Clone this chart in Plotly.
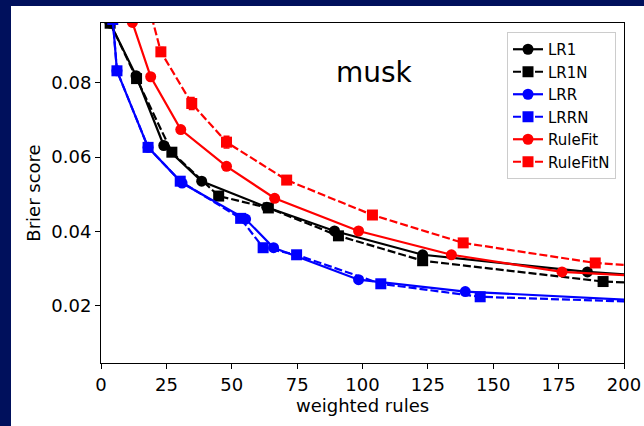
import plotly.graph_objects as go

# ---- data ----
lr1_x = [3.5, 13.4, 24, 38.5, 63.4, 89.3, 123, 186, 260]
lr1_y = [0.0960, 0.0819, 0.0631, 0.0535, 0.0465, 0.0401, 0.0337, 0.0291, 0.0255]
lr1_e = [0.0004, 0.0008, 0.0005, 0.0004, 0.0006, 0.0005, 0.0004, 0.0005, 0.0004]

lr1n_x = [3.5, 13.6, 27.1, 45, 64, 90.8, 123, 192, 260]
lr1n_y = [0.0960, 0.0811, 0.0613, 0.0495, 0.0463, 0.0388, 0.0321, 0.0265, 0.0245]
lr1n_e = [0.0004, 0.0008, 0.0005, 0.0004, 0.0005, 0.0005, 0.0005, 0.0008, 0.0004]

lrr_x = [4.5, 6.1, 18, 31, 55.3, 66, 98.5, 139.3, 260]
lrr_y = [0.0970, 0.0832, 0.0626, 0.0530, 0.0433, 0.0356, 0.0270, 0.0238, 0.0195]
lrr_e = [0.0004, 0.0005, 0.0005, 0.0005, 0.0006, 0.0004, 0.0004, 0.0005, 0.0004]

lrrn_x = [4.5, 6.1, 18, 30.3, 53.4, 62, 74.8, 107, 145, 260]
lrrn_y = [0.0970, 0.0832, 0.0626, 0.0535, 0.0435, 0.0356, 0.0337, 0.0259, 0.0224, 0.0198]
lrrn_e = [0.0004, 0.0005, 0.0005, 0.0006, 0.0006, 0.0004, 0.0004, 0.0004, 0.0005, 0.0004]

rf_x = [12, 19, 30.5, 48, 66.4, 98.5, 134, 176.3, 260]
rf_y = [0.0962, 0.0816, 0.0674, 0.0575, 0.0489, 0.0401, 0.0337, 0.0291, 0.0260]
rf_e = [0.0004, 0.0005, 0.0005, 0.0005, 0.0005, 0.0004, 0.0004, 0.0004, 0.0004]

rfn_x = [14, 22.9, 34.7, 48, 71, 103.8, 138.5, 189, 260]
rfn_y = [0.1120, 0.0883, 0.0744, 0.0640, 0.0538, 0.0444, 0.0369, 0.0315, 0.0280]
rfn_e = [0.0008, 0.0012, 0.0016, 0.0016, 0.0008, 0.0006, 0.0007, 0.0006, 0.0004]

x_ticks = [0, 25, 50, 75, 100, 125, 150, 175, 200]
y_ticks = [0.02, 0.04, 0.06, 0.08]

series = [
    ("LR1", lr1_x, lr1_y, lr1_e, "black", "solid", "circle"),
    ("LR1N", lr1n_x, lr1n_y, lr1n_e, "black", "8px,3px", "square"),
    ("LRR", lrr_x, lrr_y, lrr_e, "blue", "solid", "circle"),
    ("LRRN", lrrn_x, lrrn_y, lrrn_e, "blue", "8px,3px", "square"),
    ("RuleFit", rf_x, rf_y, rf_e, "red", "solid", "circle"),
    ("RuleFitN", rfn_x, rfn_y, rfn_e, "red", "8px,3px", "square"),
]

FONT = "DejaVu Sans"
NAVY = "#00105c"

fig = go.Figure()
for name, xs, ys, es, col, dash, sym in series:
    fig.add_trace(go.Scatter(
        x=xs, y=ys, name=name, mode="lines+markers",
        line=dict(color=col, width=2.2, dash=dash),
        marker=dict(color=col, size=11, symbol=sym),
        error_y=dict(type="data", array=es, color=col, thickness=1.5, width=3),
    ))

W, H = 644, 426
L, R, T, B = 101, 20, 23, 63
pw, ph = W - L - R, H - T - B
WHITE_LEFT, WHITE_TOP = 11, 6

fig.add_shape(type="rect", xref="paper", yref="paper", layer="below",
              x0=(WHITE_LEFT - L) / pw, x1=(W - L + 2) / pw,
              y0=-(B + 2) / ph, y1=(H - B - WHITE_TOP) / ph,
              fillcolor="white", line=dict(width=0))

fig.add_annotation(x=104.5, y=0.0827, xref="x", yref="y", text="musk",
                   showarrow=False, font=dict(family=FONT, size=28, color="black"))

axis_common = dict(showline=True, linecolor="black", linewidth=1, mirror=True,
                   ticks="outside", ticklen=5, tickcolor="black", showgrid=False,
                   zeroline=False, automargin=False,
                   tickfont=dict(family=FONT, size=18, color="black"))

fig.update_layout(
    width=W, height=H,
    margin=dict(l=L, r=R, t=T, b=B, autoexpand=False),
    paper_bgcolor=NAVY, plot_bgcolor="white",
    font=dict(family=FONT, size=18, color="black"),
    xaxis=dict(range=[0, 200], tickvals=x_ticks, ticktext=[str(v) for v in x_ticks],
               title=dict(text="weighted rules", font=dict(family=FONT, size=18), standoff=4),
               **axis_common),
    yaxis=dict(range=[0.004585, 0.09606], tickvals=y_ticks, ticktext=[f"{v:.2f}" for v in y_ticks],
               title=dict(text="Brier score", font=dict(family=FONT, size=18), standoff=6),
               **axis_common),
    legend=dict(x=(616 - L) / pw, y=(H - B - 32) / ph, xanchor="right", yanchor="top",
                bgcolor="white", bordercolor="#cccccc", borderwidth=1, itemwidth=30,
                font=dict(family=FONT, size=15, color="black")),
    showlegend=True,
)

fig.write_html("out.html")
